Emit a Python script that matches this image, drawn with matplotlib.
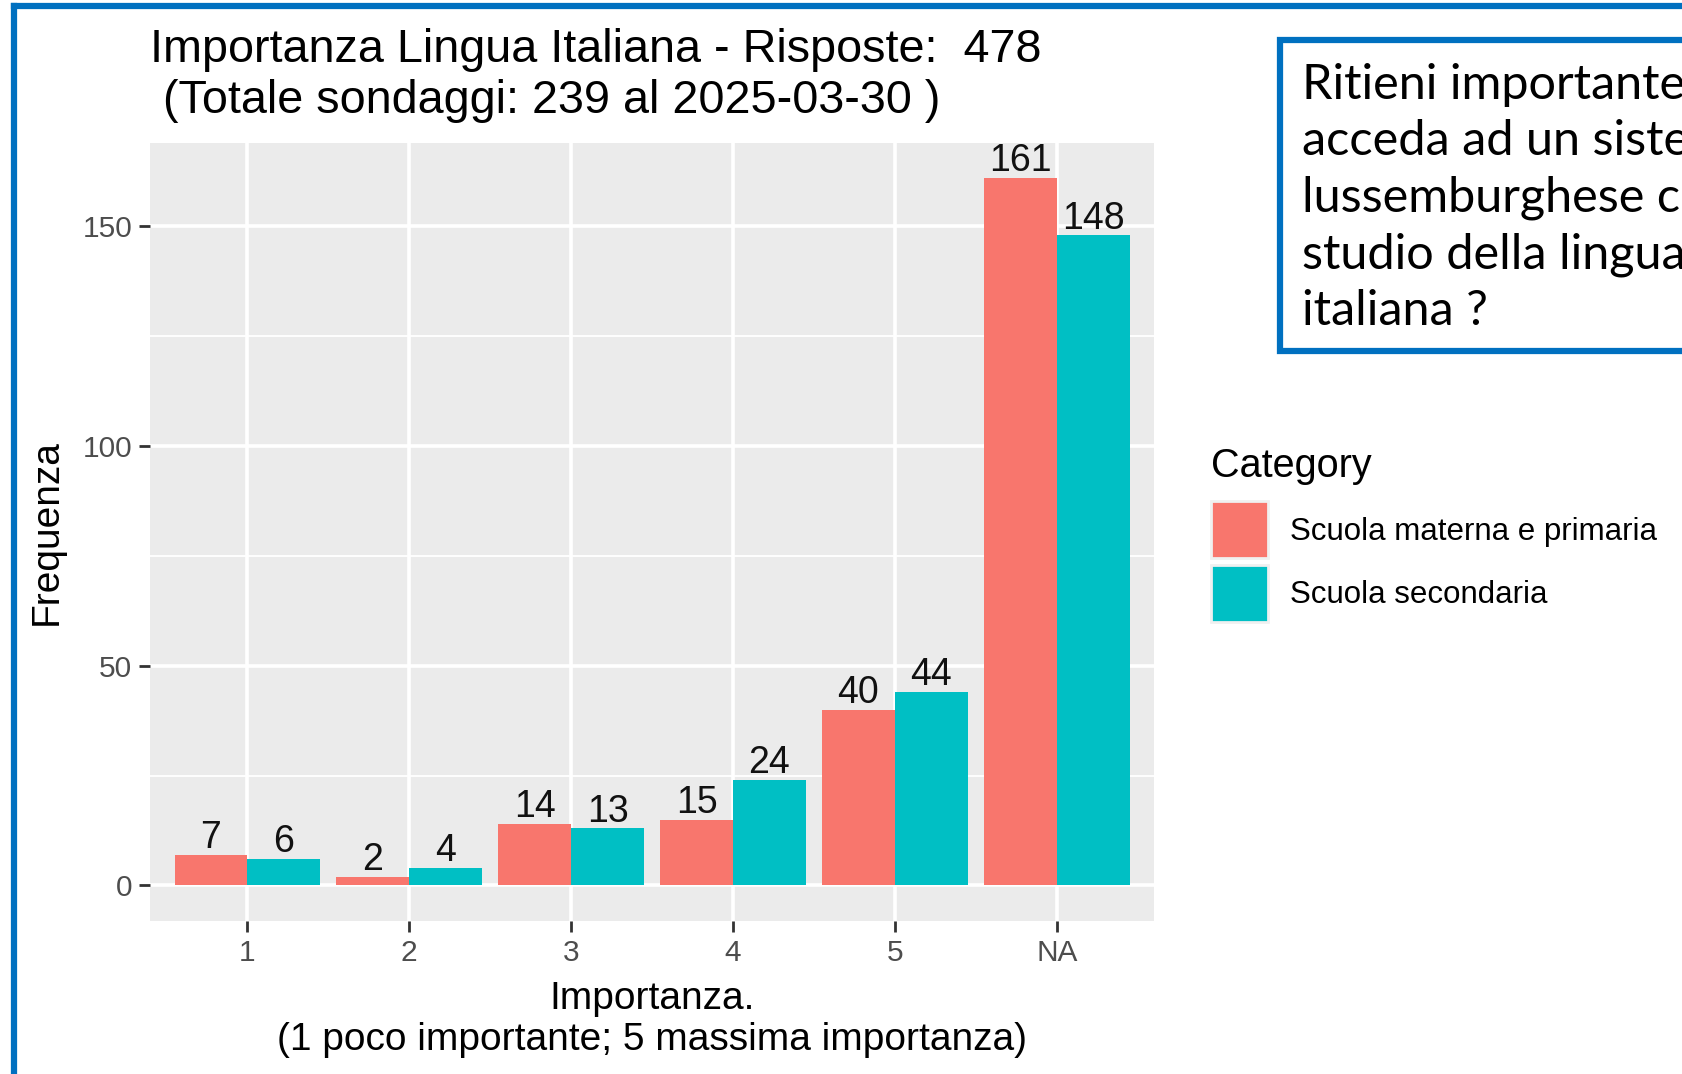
import matplotlib.pyplot as plt
import numpy as np
from matplotlib.patches import Rectangle, Patch
from matplotlib.lines import Line2D

plt.rcParams['font.family'] = ['Liberation Sans', 'DejaVu Sans']

# dati
categorie = ['1', '2', '3', '4', '5', 'NA']
materna_primaria = [7, 2, 14, 15, 40, 161]
secondaria = [6, 4, 13, 24, 44, 148]
serie = ['Scuola materna e primaria', 'Scuola secondaria']
colori = ['#F8766D', '#00BFC4']

titolo = 'Importanza Lingua Italiana - Risposte:  478\n (Totale sondaggi: 239 al 2025-03-30 )'
domanda = ['Ritieni importante che tuo figlio',
           'acceda ad un sistema scolastico',
           'lussemburghese che preveda lo',
           'studio della lingua',
           'italiana ?']

fig = plt.figure(figsize=(16.83, 10.74), dpi=100)
ax = fig.add_axes([0.0893, 0.1426, 0.5963, 0.7245])

x = np.arange(len(categorie))
w = 0.45
ax.bar(x - w / 2, materna_primaria, width=w, color=colori[0], zorder=3)
ax.bar(x + w / 2, secondaria, width=w, color=colori[1], zorder=3)
for i in range(len(categorie)):
    ax.text(x[i] - w / 2, materna_primaria[i] - 0.3, str(materna_primaria[i]),
            ha='center', va='bottom', fontsize=27, color='#111111', zorder=4)
    ax.text(x[i] + w / 2, secondaria[i] - 0.3, str(secondaria[i]),
            ha='center', va='bottom', fontsize=27, color='#111111', zorder=4)

# stile ggplot
ax.set_facecolor('#EBEBEB')
for s in ax.spines.values():
    s.set_visible(False)
ymax = max(materna_primaria + secondaria)
ax.set_ylim(-0.05 * ymax, 1.05 * ymax)
ax.set_xlim(-0.6, len(categorie) - 0.4)
ax.set_yticks([0, 50, 100, 150])
ax.set_yticks([25, 75, 125], minor=True)
ax.set_xticks(x)
ax.set_xticklabels(categorie)
ax.grid(which='major', color='white', linewidth=2.6, zorder=0)
ax.grid(which='minor', axis='y', color='white', linewidth=1.3, zorder=0)
ax.tick_params(which='major', length=8, width=2, color='#333333',
               labelsize=21.5, labelcolor='#4D4D4D', pad=5)
ax.tick_params(which='minor', length=0)
ax.set_ylabel('Frequenza', fontsize=28, labelpad=13)
ax.set_xlabel('Importanza.\n(1 poco importante; 5 massima importanza)',
              fontsize=28, labelpad=10, linespacing=1.2)

fig.text(0.0891, 0.9295, titolo, ha='left', va='center',
         fontsize=33.7, linespacing=1.2)

# legenda
handles = [Patch(facecolor=c, edgecolor='#F0F0F0', linewidth=2) for c in colori]
leg = fig.legend(handles, serie, title='Category', loc='upper left',
                 bbox_to_anchor=(0.7195, 0.584), frameon=False, fontsize=22.5,
                 title_fontsize=28.5, handlelength=1.83, handleheight=2.43,
                 handletextpad=0.7, labelspacing=0.2, borderpad=0,
                 borderaxespad=0)
leg._legend_box.align = 'left'
leg._legend_box.sep = 12

# riquadro con la domanda
fig.patches.append(Rectangle((0.7605, 0.6730), 0.30, 0.2895, transform=fig.transFigure,
                             facecolor='white', edgecolor='#0070C0', linewidth=4.5))
fig.text(0.7736, 0.942, '\n'.join(domanda), ha='left', va='top', fontsize=35,
         family=['Lato', 'DejaVu Sans'], linespacing=1.34)

# bordo blu dell'immagine
fig.add_artist(Line2D([0.0085, 0.0085], [0, 0.9945], transform=fig.transFigure,
                      color='#0070C0', linewidth=4.5))
fig.add_artist(Line2D([0.0085, 1.0], [0.9945, 0.9945], transform=fig.transFigure,
                      color='#0070C0', linewidth=4.5))

fig.savefig('out.png', dpi=100)
